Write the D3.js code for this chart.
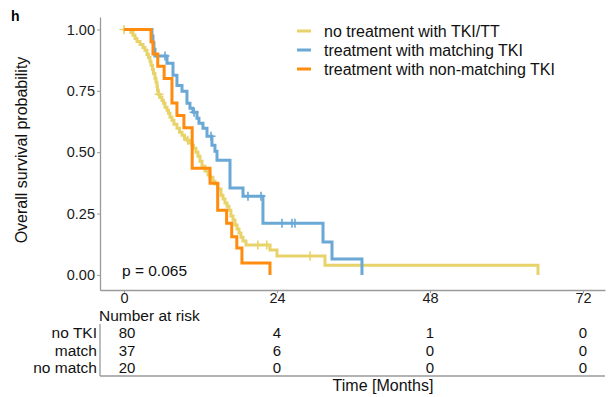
<!DOCTYPE html>
<html>
<head>
<meta charset="utf-8">
<script src="https://cdn.jsdelivr.net/npm/d3@7"></script>
<style>
  body { margin: 0; background: #fff; }
  svg { display: block; font-family: "Liberation Sans", Arial, sans-serif; }
</style>
</head>
<body>
<svg id="km" width="608" height="397"></svg>
<script>
// tick labels
const xTicks = [0, 24, 48, 72];
const yTicks = [0, 0.25, 0.5, 0.75, 1];

// legend + risk table
const seriesNames = ['no treatment with TKI/TT', 'treatment with matching TKI', 'treatment with non-matching TKI'];
const riskLabels = ['no TKI', 'match', 'no match'];
const riskNoTki = [80, 4, 1, 0];
const riskMatch = [37, 6, 0, 0];
const riskNoMatch = [20, 0, 0, 0];

// no TKI/TT curve (months, survival after step), censored times
const noTkiTime = [1.10, 1.41, 1.73, 2.04, 2.51, 2.98, 3.29, 3.61, 3.84, 4.08, 4.24, 4.47, 4.63, 4.86, 5.02, 5.18, 5.26, 5.37,
  5.65, 5.96, 6.20, 6.43, 6.75, 6.98, 7.22, 7.53, 7.84, 8.31, 8.71, 9.10, 9.49, 9.88, 10.20, 10.67, 10.90, 11.29, 11.61, 11.92,
  12.24, 12.71, 13.18, 13.49, 13.96, 14.27, 14.75, 15.22, 15.53, 15.84, 16.16, 16.47, 16.78, 17.10, 17.41, 17.73, 18.04, 18.35,
  18.67, 19.14, 22.90, 24.00, 31.53, 64.94];
const noTkiSurv = [0.988, 0.976, 0.963, 0.951, 0.939, 0.927, 0.915, 0.898, 0.886, 0.870, 0.854, 0.837, 0.821, 0.801, 0.785, 0.768, 0.752, 0.736,
  0.724, 0.711, 0.699, 0.683, 0.671, 0.659, 0.642, 0.630, 0.614, 0.598, 0.581, 0.569, 0.557, 0.549, 0.537, 0.528, 0.516, 0.500, 0.484, 0.463,
  0.443, 0.423, 0.407, 0.398, 0.382, 0.370, 0.350, 0.325, 0.309, 0.293, 0.280, 0.264, 0.240, 0.224, 0.203, 0.187, 0.171, 0.154,
  0.138, 0.122, 0.102, 0.077, 0.039, 0];
const noTkiCens = [0, 5.5, 10.0, 21.0, 22.4, 29.2];

// matching TKI
const matchTime = [4.39, 4.55, 4.70, 4.86, 6.75, 7.69, 8.31, 9.10, 9.88, 10.35, 10.82, 11.45, 11.76, 12.39, 13.02, 13.80, 14.27, 14.59,
  16.63, 18.67, 21.80, 31.22, 32.63, 37.33];
const matchSurv = [0.973, 0.946, 0.919, 0.892, 0.862, 0.813, 0.772, 0.748, 0.699, 0.679, 0.663, 0.638, 0.618, 0.598, 0.565, 0.528, 0.504, 0.467,
  0.354, 0.321, 0.211, 0.134, 0.065, 0];
const matchCens = [6.43, 11.0, 13.65, 19.45, 21.49, 24.78, 26.35, 26.82];

// non-matching TKI
const noMatchTime = [4.24, 4.55, 5.30, 6.30, 7.53, 8.31, 9.40, 10.70, 13.50, 14.70, 16.10, 16.90, 17.70, 18.50, 22.90];
const noMatchSurv = [0.95, 0.90, 0.85, 0.80, 0.70, 0.65, 0.60, 0.435, 0.374, 0.264, 0.211, 0.156, 0.110, 0.049, 0];
const noMatchCens = [];

const colors = ['#E8D36A', '#6AA8D6', '#FF8C0F'];

const svg = d3.select('#km');

const x = d3.scaleLinear().domain([-3.76, 75.45]).range([100, 605]);
const y = d3.scaleLinear().domain([-0.0614, 1.0508]).range([290, 17]);

// left axis
const yAxis = svg.append('g').attr('transform', 'translate(100,0)')
  .call(d3.axisLeft(y).tickValues(yTicks).tickFormat(d3.format('.2f')).tickSize(3).tickSizeOuter(0));
yAxis.select('.domain').attr('stroke', '#9a9a9a').attr('stroke-width', 1.3);
yAxis.selectAll('.tick line').attr('stroke', '#9a9a9a');
yAxis.selectAll('text').attr('font-size', 14.5).attr('fill', '#1a1a1a').attr('x', -5).attr('font-family', null);

// bottom axis
const xAxis = svg.append('g').attr('transform', 'translate(0,290)')
  .call(d3.axisBottom(x).tickValues(xTicks).tickSize(3).tickSizeOuter(0));
xAxis.select('.domain').attr('stroke', '#9a9a9a').attr('stroke-width', 1.3);
xAxis.selectAll('.tick line').attr('stroke', '#9a9a9a');
xAxis.selectAll('text').attr('font-size', 14.5).attr('fill', '#1a1a1a').attr('y', 2.5).attr('font-family', null);

// curves
const curves = [
  { time: noTkiTime, surv: noTkiSurv, cens: noTkiCens },
  { time: matchTime, surv: matchSurv, cens: matchCens },
  { time: noMatchTime, surv: noMatchSurv, cens: noMatchCens }
];

const line = d3.line()
  .x(d => x(d[0]))
  .y(d => y(d[1]))
  .curve(d3.curveStepAfter);

function survAt(c, t) {
  let s = 1;
  for (let i = 0; i < c.time.length; i++) {
    if (c.time[i] <= t) s = c.surv[i];
  }
  return s;
}

curves.forEach((c, i) => {
  const pts = [[0, 1]].concat(c.time.map((t, j) => [t, c.surv[j]]));
  const g = svg.append('g');
  g.append('path')
    .attr('d', line(pts))
    .attr('fill', 'none')
    .attr('stroke', colors[i])
    .attr('stroke-width', 3);
  g.selectAll('path.cens')
    .data(c.cens)
    .enter().append('path')
    .attr('class', 'cens')
    .attr('transform', t => 'translate(' + x(t) + ',' + y(survAt(c, t)) + ')')
    .attr('d', 'M-4.5,0H4.5M0,-4.5V4.5')
    .attr('stroke', colors[i])
    .attr('stroke-width', 1.6);
});

// legend
const legend = svg.append('g');
seriesNames.forEach((name, i) => {
  const ly = 31 + i * 19;
  legend.append('line')
    .attr('x1', 297).attr('x2', 311)
    .attr('y1', ly).attr('y2', ly)
    .attr('stroke', colors[i]).attr('stroke-width', 3);
  legend.append('text')
    .attr('x', 324).attr('y', ly + 5.5)
    .attr('font-size', 16).attr('fill', '#111')
    .text(name);
});

// panel letter + titles
svg.append('text').attr('x', 11).attr('y', 21)
  .attr('font-size', 14).attr('font-weight', 'bold').text('h');

svg.append('text')
  .attr('transform', 'translate(27,150) rotate(-90)')
  .attr('text-anchor', 'middle')
  .attr('font-size', 16).attr('fill', '#111')
  .text('Overall survival probability');

svg.append('text').attr('x', x(0)).attr('y', 276)
  .attr('font-size', 15.5).attr('fill', '#111')
  .attr('dx', -2)
  .text('p = 0.065');

// risk table
svg.append('text').attr('x', 99).attr('y', 321)
  .attr('font-size', 15.5).attr('fill', '#111').text('Number at risk');

const rowY = d3.scalePoint().domain(riskLabels).range([338, 373]);
const riskRows = [riskNoTki, riskMatch, riskNoMatch];

riskLabels.forEach((lab, i) => {
  svg.append('text')
    .attr('x', 97).attr('y', rowY(lab))
    .attr('text-anchor', 'end')
    .attr('font-size', 15.5).attr('fill', '#111')
    .text(lab);
  svg.append('g').selectAll('text')
    .data(riskRows[i])
    .enter().append('text')
    .attr('x', (d, j) => x(xTicks[j]) + (j === 0 ? 3 : 0))
    .attr('y', rowY(lab))
    .attr('text-anchor', 'middle')
    .attr('font-size', 15).attr('fill', '#111')
    .text(d => d);
});

svg.append('line').attr('x1', 100).attr('x2', 100).attr('y1', 324).attr('y2', 376)
  .attr('stroke', '#9a9a9a').attr('stroke-width', 1.3);
svg.append('line').attr('x1', 100).attr('x2', 605).attr('y1', 376).attr('y2', 376)
  .attr('stroke', '#9a9a9a').attr('stroke-width', 1.3);

svg.append('text').attr('x', 383).attr('y', 391)
  .attr('text-anchor', 'middle')
  .attr('font-size', 16).attr('fill', '#111')
  .text('Time [Months]');
</script>
</body>
</html>
